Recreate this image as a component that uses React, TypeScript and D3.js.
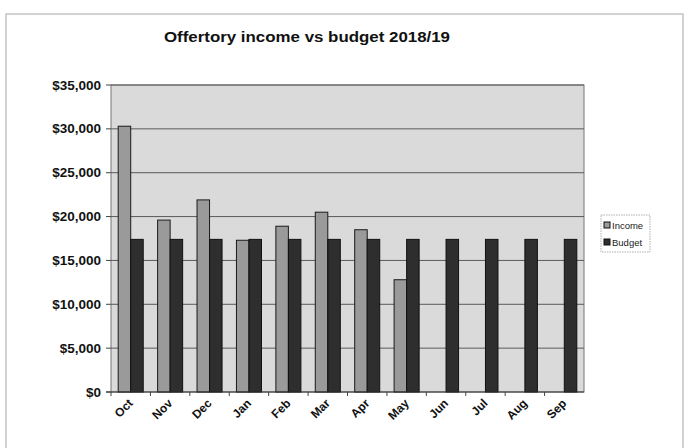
import React from "react";
import * as d3 from "d3";

const months = ["Oct", "Nov", "Dec", "Jan", "Feb", "Mar", "Apr", "May", "Jun", "Jul", "Aug", "Sep"];
const income: (number | null)[] = [30300, 19600, 21900, 17300, 18900, 20500, 18500, 12800, null, null, null, null];
const budget: number[] = [17400, 17400, 17400, 17400, 17400, 17400, 17400, 17400, 17400, 17400, 17400, 17400];
const yTicks = [0, 5000, 10000, 15000, 20000, 25000, 30000, 35000];
const seriesNames = ["Income", "Budget"];
const seriesColors = ["#9a9a9a", "#2e2e2e"];

const W = 685, H = 448;
const plot = { left: 111, right: 584, top: 85, bottom: 392 };

export default function App() {
  const x = d3.scaleBand<string>().domain(months).range([plot.left, plot.right]).paddingInner(0.365).paddingOuter(0.1825);
  const xs = d3.scaleBand<string>().domain(seriesNames).range([0, x.bandwidth()]);
  const y = d3.scaleLinear().domain([0, 35000]).range([plot.bottom, plot.top]);
  const fmt = (v: number) => "$" + d3.format(",")(v);
  const font = "'Liberation Sans', Arial, sans-serif";

  return (
    <svg width={W} height={H} style={{ position: "absolute", left: 0, top: 0, display: "block", background: "#fff" }} fontFamily={font}>
      <rect x={6} y={14} width={677} height={440} fill="#fff" stroke="#c4c4c4" strokeWidth={1.5} />
      <text x={164} y={42} fontSize={14.5} fontWeight="bold" fill="#111" textLength={286} lengthAdjust="spacingAndGlyphs">
        Offertory income vs budget 2018/19
      </text>
      <rect x={plot.left} y={plot.top} width={plot.right - plot.left} height={plot.bottom - plot.top} fill="#dadada" stroke="#777" strokeWidth={1} />
      {yTicks.map((t) => (
        <g key={t}>
          {t > 0 && <line x1={plot.left} x2={plot.right} y1={y(t)} y2={y(t)} stroke="#5a5a5a" strokeWidth={1} />}
          <line x1={plot.left - 5} x2={plot.left} y1={y(t)} y2={y(t)} stroke="#444" />
          <text transform={`translate(101,${y(t) + 4.5}) scale(1.08,1)`} textAnchor="end" fontSize={12.5} fontWeight="bold" fill="#111">
            {fmt(t)}
          </text>
        </g>
      ))}
      {months.map((m, i) => (
        <g key={m}>
          {income[i] != null && (
            <rect x={x(m)! + xs("Income")!} y={y(income[i] as number)} width={xs.bandwidth()} height={plot.bottom - y(income[i] as number)} fill={seriesColors[0]} stroke="#1a1a1a" strokeWidth={1} />
          )}
          <rect x={x(m)! + xs("Budget")!} y={y(budget[i])} width={xs.bandwidth()} height={plot.bottom - y(budget[i])} fill={seriesColors[1]} stroke="#111" strokeWidth={1} />
        </g>
      ))}
      <line x1={plot.left - 5} x2={plot.right} y1={plot.bottom} y2={plot.bottom} stroke="#333" strokeWidth={1.2} />
      {months.map((m) => {
        const cx = x(m)! + x.bandwidth() / 2;
        const edge = x(m)! - (x.step() - x.bandwidth()) / 2;
        return (
          <g key={"t" + m}>
            <line x1={edge} x2={edge} y1={plot.bottom} y2={plot.bottom + 4} stroke="#444" />
            <text transform={`translate(${cx + 3},${plot.bottom + 12}) rotate(-45)`} textAnchor="end" fontSize={12} fontWeight="bold" fill="#111">
              {m}
            </text>
          </g>
        );
      })}
      <rect x={601} y={215} width={49} height={37} fill="#fff" stroke="#999" strokeWidth={0.8} strokeDasharray="1.5,1" />
      {seriesNames.map((s, i) => (
        <g key={s}>
          <rect x={604} y={222 + i * 17} width={6} height={6} fill={seriesColors[i]} stroke="#111" strokeWidth={1} />
          <text x={612} y={228.5 + i * 17} fontSize={9.5} fill="#222">
            {s}
          </text>
        </g>
      ))}
    </svg>
  );
}
